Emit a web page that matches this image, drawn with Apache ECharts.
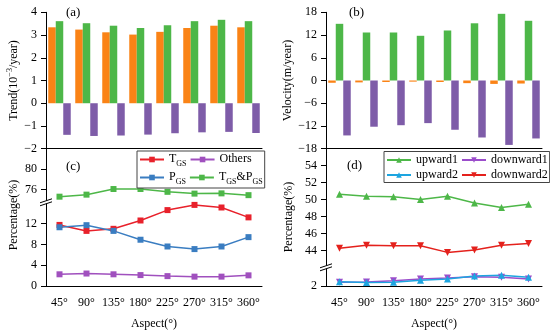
<!DOCTYPE html>
<html><head><meta charset="utf-8">
<script src="https://cdn.jsdelivr.net/npm/echarts@6/dist/echarts.min.js"></script>
<style>html,body{margin:0;padding:0;background:#fff}#c{width:550px;height:335px}</style>
</head><body><div id="c"></div>
<script>
const aspects = ['45°','90°','135°','180°','225°','270°','315°','360°'];
// (a) Trend (10^-3/year)
const trendOrange = [3.34,3.24,3.12,3.02,3.14,3.31,3.41,3.34];
const trendGreen  = [3.61,3.52,3.41,3.31,3.43,3.61,3.67,3.61];
const trendPurple = [-1.39,-1.44,-1.42,-1.38,-1.32,-1.28,-1.26,-1.31];
// (b) Velocity (m/year)
const velOrange = [-0.6,-0.5,-0.4,-0.3,-0.4,-0.7,-0.9,-0.8];
const velGreen  = [14.96,12.67,12.67,11.8,13.2,15.1,17.6,15.76];
const velPurple = [-14.5,-12.2,-11.8,-11.25,-13.0,-15.04,-17.0,-15.3];
// (c) Percentage
const pctTGS    = [11.75,10.6,11.0,12.6,14.6,15.6,15.1,13.2];
const pctPGS    = [11.3,11.7,10.6,8.9,7.6,7.1,7.6,9.4];
const pctOthers = [2.25,2.4,2.25,2.1,1.9,1.8,1.8,2.05];
const pctTP     = [74.6,75.0,76.1,76.1,75.55,75.2,75.25,74.9];
// (d) Percentage
const up1   = [50.63,50.39,50.32,50.0,50.39,49.6,49.05,49.45];
const down2 = [44.24,44.6,44.55,44.55,43.76,44.05,44.6,44.8];
const up2   = [2.5,2.4,2.43,2.67,2.83,3.18,3.26,3.03];
const down1 = [2.45,2.47,2.63,2.83,2.95,3.1,3.03,2.83];
// tick labels
const ticksA = [-2,-1,0,1,2,3,4];
const ticksB = [-18,-12,-6,0,6,12,18];
const ticksCHigh = [76,80];
const ticksCLow = [0,4,8,12];
const ticksDHigh = [44,46,48,50,52,54];
const ticksDLow = [2];

const FONT = '"Liberation Serif","Times New Roman",serif';
const C = {orange:'#FA8316', green:'#4DB748', purple:'#7E5CA8',
  red:'#E8212B', blue:'#3A7DC1', magenta:'#A050BE', lblue:'#1DA5E0', violet:'#9B4DCB', red2:'#E4211C'};

const L1 = 46, L2 = 326, W = 216;
const G = {
  a:{left:L1, top:12.3, width:W, height:136.4},
  b:{left:L2, top:12.3, width:W, height:136.4},
  cH:{left:L1, top:148.7, width:W, height:53.6},
  cL:{left:L1, top:202.3, width:W, height:83.7},
  dH:{left:L2, top:148.7, width:W, height:118.6},
  dL:{left:L2, top:267.3, width:W, height:18.7}
};
const gridKeys = ['a','b','cH','cL','dH','dL'];

const minus = v => v < 0 ? '\u2212' + (-v) : String(v);
const lbl = {color:'#000', fontFamily:FONT, fontSize:12, margin:9, formatter:minus};
const axLine = {show:true, onZero:false, lineStyle:{color:'#000', width:1}};

function xAx(i, o){
  return Object.assign({type:'category', gridIndex:i, data:aspects, boundaryGap:true,
    axisLine:axLine, splitLine:{show:false}}, o);
}
function yAx(i, min, max, ticks){
  return {type:'value', gridIndex:i, min:min, max:max,
    axisLine:axLine, splitLine:{show:false},
    axisTick:{show:true, length:5, customValues:ticks, lineStyle:{color:'#000'}},
    axisLabel:Object.assign({customValues:ticks}, lbl)};
}
const xLbl = {color:'#000', fontFamily:FONT, fontSize:12, margin:11, interval:0, hideOverlap:false};
const xName = {name:'Aspect(°)', nameLocation:'middle', nameGap:32, nameTextStyle:{color:'#000', fontFamily:FONT, fontSize:12}};

const xAxes = [
  xAx(0,{axisLabel:{show:false}, axisTick:{alignWithLabel:true, inside:true, length:5, lineStyle:{color:'#000'}}}),
  xAx(1,{axisLabel:{show:false}, axisTick:{alignWithLabel:true, inside:true, length:5, lineStyle:{color:'#000'}}}),
  xAx(2,{show:false}),
  xAx(3,Object.assign({axisLabel:xLbl, axisTick:{alignWithLabel:true, interval:0, length:6, lineStyle:{color:'#000'}}}, xName)),
  xAx(4,{show:false}),
  xAx(5,Object.assign({axisLabel:xLbl, axisTick:{alignWithLabel:true, interval:0, length:6, lineStyle:{color:'#000'}}}, xName))
];
const yAxes = [
  yAx(0,-2,4,ticksA),
  yAx(1,-18,18,ticksB),
  yAx(2,73.5,84,ticksCHigh),
  yAx(3,0,16.1,ticksCLow),
  yAx(4,42,56,ticksDHigh),
  yAx(5,2,4.2,ticksDLow)
];

function bar(name, i, data, color){
  return {type:'bar', name:name, xAxisIndex:i, yAxisIndex:i, data:data, barWidth:7.5, barGap:'0%',
    itemStyle:{color:color}, silent:true};
}
const downTri = 'path://M0,0L10,0L5,9Z';
function line(name, i, data, color, symbol, size){
  return {type:'line', name:name, xAxisIndex:i, yAxisIndex:i, data:data, symbol:symbol, symbolSize:size,
    showSymbol:true, lineStyle:{color:color, width:1.5}, itemStyle:{color:color}, z:3, animation:false};
}

const series = [
  bar('a-o',0,trendOrange,C.orange), bar('a-g',0,trendGreen,C.green), bar('a-p',0,trendPurple,C.purple),
  bar('b-o',1,velOrange,C.orange), bar('b-g',1,velGreen,C.green), bar('b-p',1,velPurple,C.purple),
  line('TGS',3,pctTGS,C.red,'rect',6),
  line('Others',3,pctOthers,C.magenta,'rect',6),
  line('PGS',3,pctPGS,C.blue,'rect',6),
  line('TGS&PGS',2,pctTP,C.green,'rect',6),
  line('upward1',4,up1,C.green,'triangle',7),
  line('downward1',5,down1,C.violet,downTri,7),
  line('upward2',5,up2,C.lblue,'triangle',7),
  line('downward2',4,down2,C.red2,downTri,7)
];

const rich = {
  n:{fontFamily:FONT, fontSize:12, lineHeight:13, verticalAlign:'top', color:'#000'},
  s:{fontFamily:FONT, fontSize:8, lineHeight:8, padding:[7,0,0,0], verticalAlign:'top', color:'#000'}
};
const legendNames = {'TGS':'{n|T}{s|GS}', 'PGS':'{n|P}{s|GS}', 'TGS&PGS':'{n|T}{s|GS}{n|&P}{s|GS}', 'Others':'{n|Others}',
  'upward1':'{n|upward1}','upward2':'{n|upward2}','downward1':'{n|downward1}','downward2':'{n|downward2}'};
function legend(data, left, top, width){
  return {data:data, left:left, top:top, width:width, orient:'horizontal', itemWidth:24, itemHeight:7, itemGap:3,
    padding:[2,2,2,2], borderColor:'#444', borderWidth:1, borderRadius:0, backgroundColor:'#fff',
    selectedMode:false, formatter:n => legendNames[n], textStyle:{rich:rich, fontFamily:FONT, fontSize:12, color:'#000'}};
}

function breakMark(x0, y0){
  return [
    {type:'polygon', shape:{points:[[x0-6,y0+3.5],[x0+6,y0-0.5],[x0+6,y0-3.5],[x0-6,y0+0.5]]}, style:{fill:'#fff'}, z:100},
    {type:'line', shape:{x1:x0-6,y1:y0+3.5,x2:x0+6,y2:y0-0.5}, style:{stroke:'#000', lineWidth:1}, z:101},
    {type:'line', shape:{x1:x0-6,y1:y0+0.5,x2:x0+6,y2:y0-3.5}, style:{stroke:'#000', lineWidth:1}, z:101}
  ];
}
function tag(t, x, y){
  return {type:'text', x:x, y:y, z:100, style:{text:t, font:'13px '+FONT, fill:'#000', align:'left', verticalAlign:'middle'}};
}
function yName(t, x, y){
  return {type:'text', x:x, y:y, rotation:Math.PI/2, z:100,
    style:{text:t, font:'12px '+FONT, fill:'#000', align:'center', verticalAlign:'middle',
      rich:{n:{fontFamily:FONT, fontSize:12, lineHeight:14, verticalAlign:'bottom'},
            sup:{fontFamily:FONT, fontSize:8, lineHeight:8, padding:[0,0,6,0], verticalAlign:'bottom'}}}};
}

const graphic = [].concat(
  breakMark(G.cL.left, G.cL.top),
  breakMark(G.dL.left, G.dL.top),
  [tag('(a)',66,13), tag('(b)',349,13), tag('(c)',66,166.5), tag('(d)',347,166),
   yName('{n|Trend(10}{sup|\u22123}{n|/year)}',12.5,80.5),
   yName('{n|Velocity(m/year)}',287,80.5),
   yName('{n|Percentage(%)}',12.5,215),
   yName('{n|Percentage(%)}',288,217)]
);

const chart = echarts.init(document.getElementById('c'), null, {renderer:'canvas'});
chart.setOption({
  animation:false,
  backgroundColor:'#fff',
  grid: gridKeys.map(k => Object.assign({containLabel:false}, G[k])),
  xAxis: xAxes,
  yAxis: yAxes,
  legend:[
    legend(['TGS','Others','PGS','TGS&PGS'], 137, 151, 140),
    legend(['upward1','downward1','upward2','downward2'], 384, 151.5, 180)
  ],
  series: series,
  graphic: graphic
});
</script></body></html>
